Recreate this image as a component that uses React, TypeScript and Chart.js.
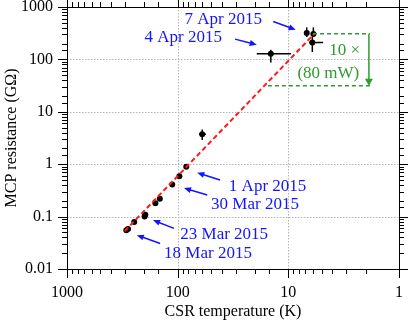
import React, { useEffect, useRef } from 'react';
import { Chart, registerables } from 'chart.js';
Chart.register(...registerables);

const SERIF = '"Liberation Serif", "Times New Roman", serif';

// Measurements: CSR temperature (K) vs MCP resistance (GΩ)
const tempK = [291, 281, 247, 199, 196, 159, 145, 112, 96.6, 83.6, 60, 14.4, 6.82, 5.94, 6.07];
const resGOhm = [0.055, 0.058, 0.0785, 0.1, 0.108, 0.179, 0.219, 0.41, 0.59, 0.895, 3.73, 128, 318, 305, 210];
const tempLo = [null, null, null, null, null, null, null, null, null, null, 55.5, 9.46, null, null, 4.85];
const tempHi = [null, null, null, null, null, null, null, null, null, null, 64.1, 19.3, null, null, 6.5];
const resLo = [null, null, null, null, null, null, null, null, null, null, 2.9, 87, 267, 267, 138];
const resHi = [null, null, null, null, null, null, null, null, null, null, 4.57, 153, 408, 408, 267];

// Power-law fit (end points)
const fitT = [301, 5.74];
const fitR = [0.0528, 318];

// Axis decade labels
const xDecades = [1, 10, 100, 1000];
const yDecades = [0.01, 0.1, 1, 10, 100, 1000];

// Date annotations (data coordinates)
const dateTexts = ['7 Apr 2015', '4 Apr 2015', '1 Apr 2015', '30 Mar 2015', '23 Mar 2015', '18 Mar 2015'];
const dateTextT = [38.7, 89, 15.4, 20, 38, 53.2];
const dateTextR = [616, 274, 0.4, 0.179, 0.049, 0.0214];
const arrowFromT = [13.7, 30.3, 41.4, 54.0, 108, 144];
const arrowFromR = [530, 244, 0.499, 0.258, 0.0595, 0.0307];
const arrowToT = [8.58, 19.3, 66.5, 87.7, 167, 234];
const arrowToR = [368, 190, 0.688, 0.351, 0.0857, 0.0443];

// Power step annotation (10x at 80 mW)
const stepTopR = 309;
const stepBottomR = 31.3;
const stepTopLeftT = 5.98;
const stepBottomLeftT = 15.3;
const stepRightT = 1.83;
const stepArrowT = 1.87;
const stepTexts = ['10 ×', '(80 mW)'];
const stepTextT = [3.1, 4.35];
const stepTextR = [157, 58.7];

const isDecade = (v: number) => Math.abs(Math.log10(v) - Math.round(Math.log10(v))) < 1e-6;
const fmt = (v: any) => {
  const n = Number(v);
  if (!isDecade(n)) return '';
  return String(Number(n.toPrecision(3)));
};

function arrowHead(ctx: CanvasRenderingContext2D, x0: number, y0: number, x1: number, y1: number, len: number, half: number) {
  const ang = Math.atan2(y1 - y0, x1 - x0);
  ctx.beginPath();
  ctx.moveTo(x1, y1);
  ctx.lineTo(x1 - len * Math.cos(ang) + half * Math.sin(ang), y1 - len * Math.sin(ang) - half * Math.cos(ang));
  ctx.lineTo(x1 - len * Math.cos(ang) - half * Math.sin(ang), y1 - len * Math.sin(ang) + half * Math.cos(ang));
  ctx.closePath();
  ctx.fill();
}

const decorPlugin = {
  id: 'decor',
  beforeDatasetsDraw(chart: any) {
    const { ctx, chartArea: a, scales } = chart;
    const xs = scales.x, ys = scales.y;
    ctx.save();
    // dotted grid at decades
    ctx.strokeStyle = '#b4b4b4';
    ctx.lineWidth = 1;
    ctx.setLineDash([1.5, 1.5]);
    xDecades.forEach((v) => {
      const px = Math.round(xs.getPixelForValue(v)) + 0.5;
      ctx.beginPath(); ctx.moveTo(px, a.top); ctx.lineTo(px, a.bottom); ctx.stroke();
    });
    yDecades.forEach((v) => {
      const py = Math.round(ys.getPixelForValue(v)) + 0.5;
      ctx.beginPath(); ctx.moveTo(a.left, py); ctx.lineTo(a.right, py); ctx.stroke();
    });
    ctx.setLineDash([]);
    // error bars
    ctx.strokeStyle = '#000';
    ctx.lineWidth = 1.5;
    tempK.forEach((t, i) => {
      const px = xs.getPixelForValue(t);
      const py = ys.getPixelForValue(resGOhm[i]);
      if (tempLo[i] != null && tempHi[i] != null) {
        ctx.beginPath();
        ctx.moveTo(xs.getPixelForValue(tempLo[i]), py);
        ctx.lineTo(xs.getPixelForValue(tempHi[i]), py);
        ctx.stroke();
      }
      if (resLo[i] != null && resHi[i] != null) {
        ctx.beginPath();
        ctx.moveTo(px, ys.getPixelForValue(resLo[i]));
        ctx.lineTo(px, ys.getPixelForValue(resHi[i]));
        ctx.stroke();
      }
    });
    ctx.restore();
  },
  afterDraw(chart: any) {
    const { ctx, chartArea: a, scales } = chart;
    const xs = scales.x, ys = scales.y;
    ctx.save();
    // frame
    ctx.strokeStyle = '#000';
    ctx.lineWidth = 1;
    ctx.strokeRect(Math.round(a.left) + 0.5, Math.round(a.top) + 0.5, Math.round(a.right - a.left), Math.round(a.bottom - a.top));
    // tick marks (outside, all four sides)
    xs.ticks.forEach((tk: any) => {
      const px = Math.round(xs.getPixelForValue(tk.value)) + 0.5;
      const major = isDecade(tk.value);
      const len = major ? 9 : 5;
      ctx.beginPath(); ctx.moveTo(px, a.bottom); ctx.lineTo(px, a.bottom + len); ctx.stroke();
      ctx.beginPath(); ctx.moveTo(px, a.top); ctx.lineTo(px, a.top - (major ? 7 : 5)); ctx.stroke();
    });
    ys.ticks.forEach((tk: any) => {
      const py = Math.round(ys.getPixelForValue(tk.value)) + 0.5;
      const major = isDecade(tk.value);
      const len = major ? 9 : 5;
      ctx.beginPath(); ctx.moveTo(a.left, py); ctx.lineTo(a.left - len, py); ctx.stroke();
      ctx.beginPath(); ctx.moveTo(a.right, py); ctx.lineTo(a.right + len, py); ctx.stroke();
    });

    // blue date annotations
    ctx.fillStyle = '#1414ff';
    ctx.strokeStyle = '#1414ff';
    ctx.lineWidth = 1.5;
    ctx.font = '17px ' + SERIF;
    ctx.textAlign = 'center';
    ctx.textBaseline = 'alphabetic';
    dateTexts.forEach((txt, i) => {
      ctx.fillText(txt, xs.getPixelForValue(dateTextT[i]), ys.getPixelForValue(dateTextR[i]) + 6);
      const x0 = xs.getPixelForValue(arrowFromT[i]);
      const y0 = ys.getPixelForValue(arrowFromR[i]);
      const x1 = xs.getPixelForValue(arrowToT[i]);
      const y1 = ys.getPixelForValue(arrowToR[i]);
      const ang = Math.atan2(y1 - y0, x1 - x0);
      ctx.beginPath();
      ctx.moveTo(x0, y0);
      ctx.lineTo(x1 - 5 * Math.cos(ang), y1 - 5 * Math.sin(ang));
      ctx.stroke();
      arrowHead(ctx, x0, y0, x1, y1, 7, 3);
    });

    // green power-step annotation
    const green = '#2f9a2f';
    ctx.strokeStyle = green;
    ctx.fillStyle = green;
    ctx.lineWidth = 1.5;
    ctx.setLineDash([4, 3]);
    const yTop = ys.getPixelForValue(stepTopR);
    const yBot = ys.getPixelForValue(stepBottomR);
    const xRight = xs.getPixelForValue(stepRightT);
    ctx.beginPath();
    ctx.moveTo(xs.getPixelForValue(stepTopLeftT), yTop); ctx.lineTo(xRight, yTop);
    ctx.moveTo(xs.getPixelForValue(stepBottomLeftT), yBot); ctx.lineTo(xRight, yBot);
    ctx.stroke();
    ctx.setLineDash([]);
    const xa = xs.getPixelForValue(stepArrowT);
    ctx.beginPath(); ctx.moveTo(xa, yTop); ctx.lineTo(xa, yBot - 5); ctx.stroke();
    arrowHead(ctx, xa, yTop, xa, yBot, 7, 4);
    stepTexts.forEach((txt, i) => {
      ctx.fillText(txt, xs.getPixelForValue(stepTextT[i]), ys.getPixelForValue(stepTextR[i]) + 6);
    });
    ctx.restore();
  },
};

export default function App() {
  const ref = useRef<HTMLCanvasElement>(null);
  useEffect(() => {
    document.body.style.margin = '0';
    const canvas = ref.current!;
    const tickFont = { family: SERIF, size: 16 };
    const chart = new Chart(canvas, {
      type: 'scatter',
      data: {
        datasets: [
          {
            type: 'line',
            data: fitT.map((t, i) => ({ x: t, y: fitR[i] })),
            borderColor: '#ff1a1a',
            borderWidth: 2,
            borderDash: [5, 3],
            pointRadius: 0,
            showLine: true,
            fill: false,
            order: 0,
          } as any,
          {
            data: tempK.map((t, i) => ({ x: t, y: resGOhm[i] })),
            backgroundColor: '#000',
            borderColor: '#000',
            borderWidth: 0,
            pointRadius: 3,
            order: 1,
          },
        ],
      },
      options: {
        responsive: false,
        animation: false,
        layout: { padding: { top: 7, right: 16, left: 0, bottom: 0 } },
        plugins: { legend: { display: false }, tooltip: { enabled: false } },
        scales: {
          x: {
            type: 'logarithmic',
            reverse: true,
            min: 1,
            max: 1000,
            position: 'bottom',
            grid: { display: true, drawOnChartArea: false, drawTicks: true, tickLength: 8, color: 'rgba(0,0,0,0)', tickColor: 'rgba(0,0,0,0)' },
            border: { display: false },
            ticks: { autoSkip: false, maxRotation: 0, minRotation: 0, padding: 6, color: '#000', font: tickFont, callback: fmt },
            title: { display: true, text: 'CSR temperature (K)', color: '#000', font: tickFont, padding: { top: 0, bottom: 3 } },
            afterFit: (s: any) => { s.height = 55; s.paddingLeft = 0; s.paddingRight = 0; },
          },
          y: {
            type: 'logarithmic',
            min: 0.01,
            max: 1000,
            position: 'left',
            grid: { display: true, drawOnChartArea: false, drawTicks: true, tickLength: 8, color: 'rgba(0,0,0,0)', tickColor: 'rgba(0,0,0,0)' },
            border: { display: false },
            ticks: { autoSkip: false, padding: 6, color: '#000', font: tickFont, callback: fmt },
            title: { display: true, text: 'MCP resistance (GΩ)', color: '#000', font: tickFont, padding: { top: 2.5, bottom: 0 } },
            afterFit: (s: any) => { s.width = 67; s.paddingTop = 0; s.paddingBottom = 0; },
          },
        },
      },
      plugins: [decorPlugin],
    } as any);
    return () => chart.destroy();
  }, []);
  return <canvas ref={ref} width={415} height={324} style={{ display: 'block', width: 415, height: 324 }} />;
}
